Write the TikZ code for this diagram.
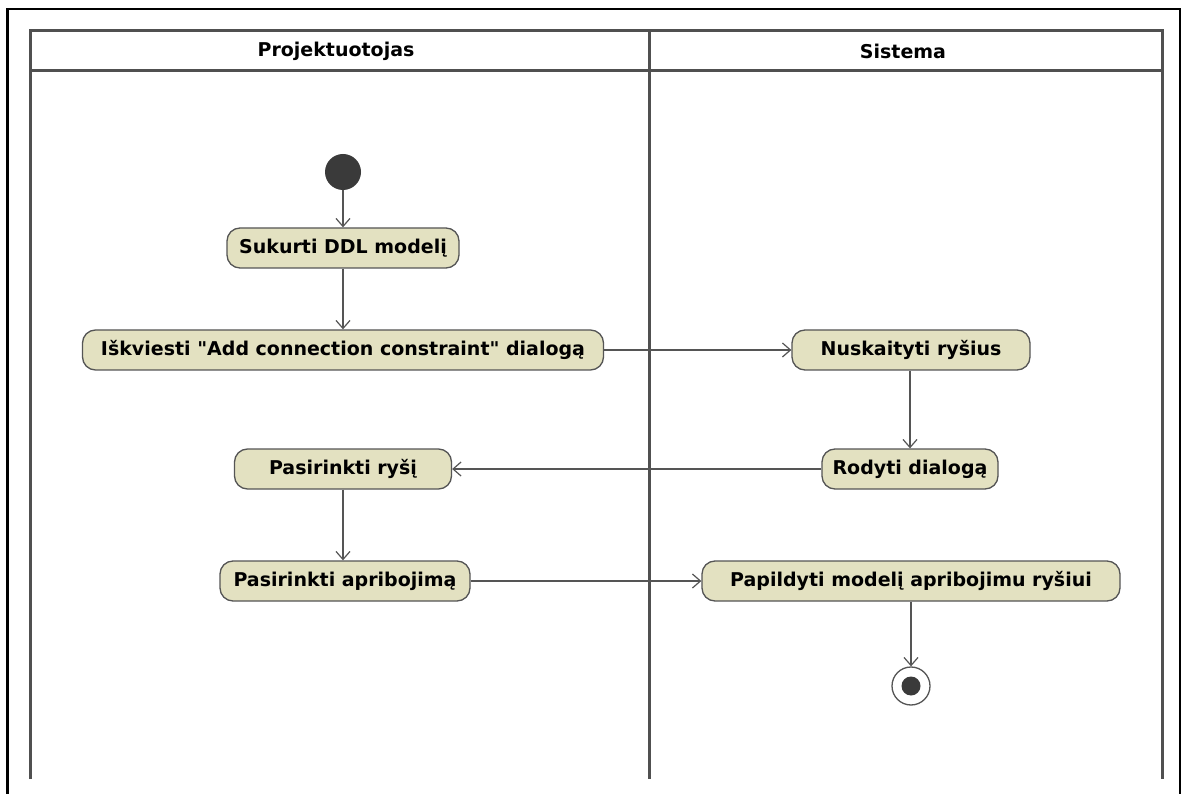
\documentclass[tikz,border=0pt]{standalone}
\usepackage{fontspec}
\setmainfont{DejaVu Sans}
% plain family without TeX ligature mapping, so " stays a straight quote
\newfontfamily\umlfont{DejaVu Sans}
\usetikzlibrary{arrows.meta}
\definecolor{actfill}{HTML}{E3E1C1}
\definecolor{laneline}{HTML}{505050}
\definecolor{edgecol}{HTML}{555555}
\definecolor{dotcol}{HTML}{3A3A3A}
\tikzset{
  act/.style={draw=edgecol, line width=1.3pt, fill=actfill, rounded corners=13pt,
    minimum height=40pt, inner xsep=6pt, font=\umlfont\fontsize{19}{22}\selectfont\bfseries},
  flow/.style={draw=edgecol, line width=1.2pt,
    -{Straight Barb[length=8pt,width=14pt,line width=1.2pt]}},
  lane/.style={draw=laneline, line width=3pt},
  lanehead/.style={font=\umlfont\fontsize{19}{22}\selectfont\bfseries},
}
\begin{document}
\begin{tikzpicture}[x=1pt,y=-1pt]
\useasboundingbox (0,0) rectangle (1184,794);
\fill[white] (0,0) rectangle (1184,794);
% outer frame (open at the bottom)
\draw[black, line width=2.5pt] (7.5,794) -- (7.5,9) -- (1180,9) -- (1180,794);
% swimlanes
\draw[lane] (30,779) -- (30,31) -- (1162,31) -- (1162,779);
\draw[lane] (30,71) -- (1162,71);
\draw[lane] (649,31) -- (649,779);
\node[lanehead] (h1) at (336,51) {Projektuotojas};
\node[lanehead] (h2) at (903,51) {Sistema};
% activity nodes
\node[circle, fill=dotcol, minimum size=36pt, inner sep=0pt] (start) at (343,172) {};
\node[act, minimum width=232pt] (a1) at (343,248) {Sukurti DDL modelį};
\node[act, minimum width=521pt] (a2) at (343,350) {Iškviesti "Add connection constraint" dialogą};
\node[act, minimum width=238pt] (b1) at (911,350) {Nuskaityti ryšius};
\node[act, minimum width=176pt] (b2) at (910,469) {Rodyti dialogą};
\node[act, minimum width=217pt] (a3) at (343,469) {Pasirinkti ryšį};
\node[act, minimum width=250pt] (a4) at (345,581) {Pasirinkti apribojimą};
\node[act, minimum width=418pt] (b3) at (911,581) {Papildyti modelį apribojimu ryšiui};
\node[circle, draw=edgecol, line width=1.3pt, fill=white, minimum size=38pt, inner sep=0pt] (end) at (911,686) {};
\node[circle, fill=dotcol, minimum size=19pt, inner sep=0pt] (endin) at (911,686) {};
% control flows
\draw[flow] (start) -- (a1);
\draw[flow] (a1) -- (a2);
\draw[flow] (b1.south -| b2.north) -- (b2);
\draw[flow] (a2) -- (b1);
\draw[flow] (b2.west) -- (a3.east);
\draw[flow] (a3.south) -- (a3.south |- a4.north);
\draw[flow] (a4) -- (b3);
\draw[flow] (b3) -- (end);
\end{tikzpicture}
\end{document}
